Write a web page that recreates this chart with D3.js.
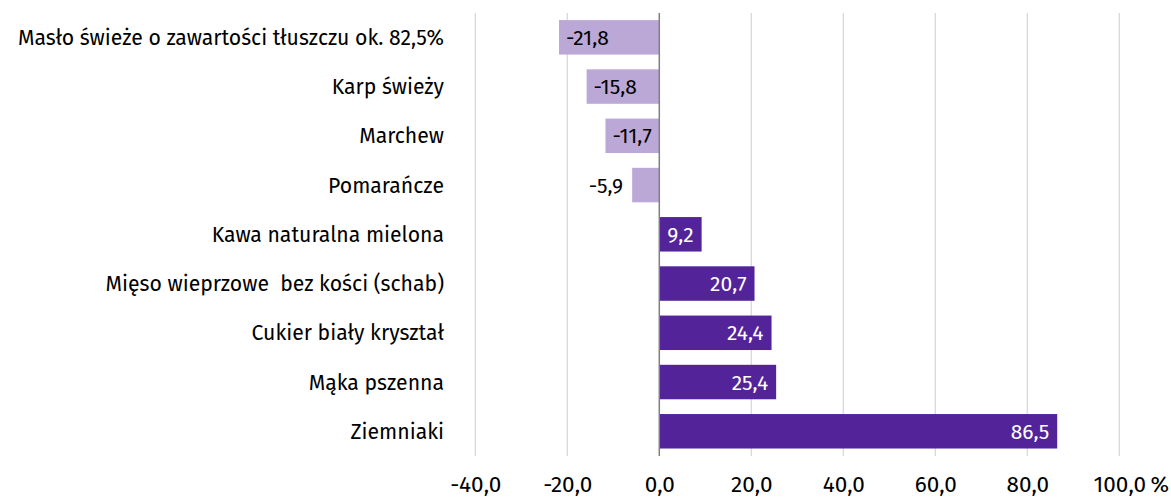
<!DOCTYPE html>
<html>
<head>
<meta charset="utf-8">
<script src="https://cdn.jsdelivr.net/npm/d3@7"></script>
<style>
  html, body { margin: 0; padding: 0; background: #ffffff; }
  svg { display: block; font-family: "Fira Sans", "Noto Sans", sans-serif; }
  .cat { white-space: pre; }
</style>
</head>
<body>
<svg id="chart" width="1171" height="497"></svg>
<script>
const categories = [
  "Masło świeże o zawartości tłuszczu ok. 82,5%",
  "Karp świeży",
  "Marchew",
  "Pomarańcze",
  "Kawa naturalna mielona",
  "Mięso wieprzowe  bez kości (schab)",
  "Cukier biały kryształ",
  "Mąka pszenna",
  "Ziemniaki"
];
const values = [-21.8, -15.8, -11.7, -5.9, 9.2, 20.7, 24.4, 25.4, 86.5];
const tickValues = [-40, -20, 0, 20, 40, 60, 80, 100];
const unitLabel = "%";

const fmt = v => v.toFixed(1).replace(".", ",");

const svg = d3.select("#chart");
const x = d3.scaleLinear().domain([-40, 100]).range([475.3, 1119.3]);
const y = d3.scaleBand().domain(categories).range([12.7, 455.9]).paddingInner(0.3).paddingOuter(0.15);

const colNeg = "#BBA8D6", colPos = "#53239A";

// gridlines
svg.append("g").selectAll("line").data(tickValues.filter(t => t !== 0)).join("line")
  .attr("x1", d => x(d)).attr("x2", d => x(d))
  .attr("y1", 13).attr("y2", 456)
  .attr("stroke", "#d9d9d9").attr("stroke-width", 1.3);

// bars
svg.append("g").selectAll("rect").data(values).join("rect")
  .attr("x", d => Math.min(x(0), x(d)))
  .attr("width", d => Math.abs(x(d) - x(0)))
  .attr("y", (d, i) => y(categories[i]))
  .attr("height", y.bandwidth())
  .attr("fill", d => d < 0 ? colNeg : colPos);

// zero line
svg.append("line").attr("x1", x(0)).attr("x2", x(0)).attr("y1", 13).attr("y2", 456)
  .attr("stroke", "#7f7f7f").attr("stroke-width", 1.5);

// value labels
const lab = svg.append("g").selectAll("text").data(values).join("text")
  .attr("y", (d, i) => y(categories[i]) + y.bandwidth() / 2)
  .attr("dy", "0.36em")
  .attr("font-size", 21)
  .text(d => fmt(d));
lab.each(function(d) {
  const t = d3.select(this);
  const w = this.getComputedTextLength();
  const barW = Math.abs(x(d) - x(0));
  if (d >= 0) {
    t.attr("x", x(d) - 8).attr("text-anchor", "end").attr("fill", "#ffffff");
  } else if (w + 8 < barW) {
    t.attr("x", x(d) + 7).attr("text-anchor", "start").attr("fill", "#000000");
  } else {
    t.attr("x", x(d) - 9).attr("text-anchor", "end").attr("fill", "#000000");
  }
});

// category labels
svg.append("g").selectAll("text").data(categories).join("text")
  .attr("class", "cat")
  .attr("x", 444)
  .attr("y", d => y(d) + y.bandwidth() / 2)
  .attr("dy", "0.36em")
  .attr("text-anchor", "end")
  .attr("font-size", 21.2)
  .attr("fill", "#000000")
  .text(d => d);

// x axis tick labels
const xAxis = d3.axisBottom(x).tickValues(tickValues).tickSize(0).tickPadding(0).tickFormat(fmt);
const gx = svg.append("g").attr("transform", "translate(0,476)").call(xAxis);
gx.select(".domain").remove();
gx.selectAll("text").attr("font-size", 22.5).attr("font-family", "\"Fira Sans\", \"Noto Sans\", sans-serif").attr("fill", "#000000").attr("dy", "0.72em");
// unit after last tick
const lastTick = gx.selectAll(".tick text").filter(d => d === 100).node();
const lw = lastTick.getComputedTextLength();
svg.append("text").attr("x", x(100) + lw / 2 + 5).attr("y", 476)
  .attr("dy", "0.72em").attr("font-size", 22.5).attr("fill", "#000000")
  .text(unitLabel);
</script>
</body>
</html>
